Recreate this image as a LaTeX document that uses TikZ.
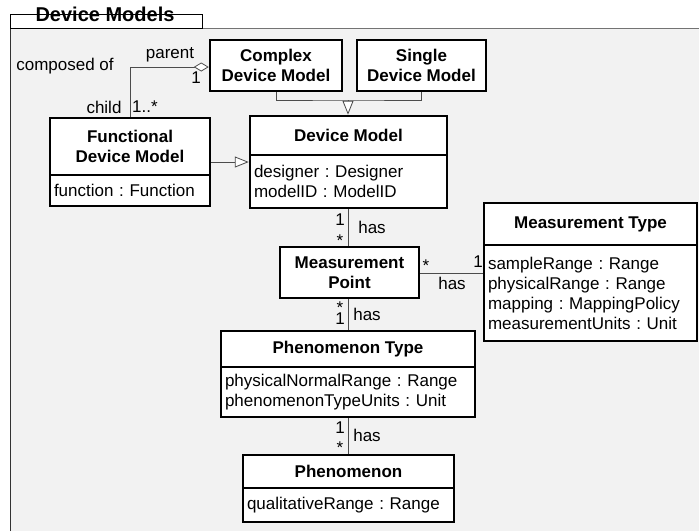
\documentclass[tikz,border=0pt]{standalone}
\usepackage{fontspec}
\setmainfont{Liberation Sans}
\usetikzlibrary{arrows.meta}
\frenchspacing
\begin{document}
\begin{tikzpicture}[x=1pt,y=-1pt,
 every node/.style={font=\fontsize{17}{20}\selectfont, inner sep=0pt},
 cls/.style={draw=black, line width=2.5pt, fill=white, align=center, font=\fontsize{17}{20}\selectfont\bfseries},
 attr/.style={draw=black, line width=2.5pt, fill=white, align=left, inner xsep=4pt, font=\frenchspacing\fontsize{17}{20}\selectfont},
 conn/.style={draw=black!70, line width=0.8pt},
 gen/.style={conn, -{Triangle[open, length=14pt, width=11pt, fill=white]}},
 agg/.style={conn, -{Diamond[open, length=15pt, width=9pt, fill=white]}},
 lbl/.style={font=\fontsize{17}{20}\selectfont, inner sep=0pt},
 star/.style={font=\fontsize{17}{20}\selectfont, inner sep=0pt, text height=5pt, text depth=0pt},
]
\useasboundingbox (0,0) rectangle (699,531);
% frame
\fill[gray!10] (10,28) rectangle (699,531);
\draw[black!80, line width=1pt] (10,531) -- (10,28);
\draw[black!55, line width=1pt] (202,28) -- (699,28);
\draw[black, line width=1pt, fill=white] (10,14) rectangle (202,28);
\node[font=\fontsize{20}{24}\selectfont\bfseries] (title) at (105,14) {Device Models};

% classes
\node[cls, minimum width=132pt, minimum height=51pt] (cdm) at (276,65.5) {Complex\\Device Model};
\node[cls, minimum width=129pt, minimum height=51pt] (sdm) at (421.5,65.5) {Single\\Device Model};

\node[cls, minimum width=197pt, minimum height=39pt] (dm) at (348.5,135.5) {Device Model};
\node[attr, text width=189pt, minimum height=53pt] (dma) at (348.5,181.5) {designer : Designer\\modelID : ModelID};

\node[cls, minimum width=160pt, minimum height=57pt] (fdm) at (130,146.5) {Functional\\Device Model};
\node[attr, text width=152pt, minimum height=31pt] (fdma) at (130,190.5) {function : Function};

\node[cls, minimum width=139pt, minimum height=51pt] (mp) at (349.5,272.5) {Measurement\\Point};

\node[cls, minimum width=213pt, minimum height=42pt] (mt) at (590.5,224) {Measurement Type};
\node[attr, text width=205pt, minimum height=96pt] (mta) at (590.5,293) {sampleRange : Range\\physicalRange : Range\\mapping : MappingPolicy\\measurementUnits : Unit};

\node[cls, minimum width=254pt, minimum height=36pt] (pt) at (348,349) {Phenomenon Type};
\node[attr, text width=246pt, minimum height=50pt] (pta) at (348,392) {physicalNormalRange : Range\\phenomenonTypeUnits : Unit};

\node[cls, minimum width=211pt, minimum height=33pt] (ph) at (348.5,471.5) {Phenomenon};
\node[attr, text width=203pt, minimum height=34pt] (pha) at (348.5,505) {qualitativeRange : Range};

% generalizations
\coordinate (gj) at (348,100);
\draw[conn] (cdm.south) |- (gj) -| (sdm.south);
\draw[gen] (gj) -- (gj |- dm.north);
\draw[gen] ([yshift=-15.5pt]fdm.east) -- ([yshift=-15.5pt]fdm.east -| dma.west);

% aggregation
\draw[agg] (fdm.north) |- ([yshift=-1.5pt]cdm.west);
\node[lbl] at (65,66) {composed of};
\node[lbl] at (170,55) {parent};
\node[lbl] at (196,78) {1};
\node[lbl] at (104,107) {child};
\node[lbl] at (145,107) {1..*};

% associations
\draw[conn] (dma.south -| gj) -- (mp.north -| gj);
\node[lbl] at (340,220) {1};
\node[star] at (340,237) {\raisebox{-7pt}{*}};
\node[lbl] at (372,227) {has};

\draw[conn] (mp.east |- 0,273) -- (mta.west |- 0,273);
\node[star] at (426,262) {\raisebox{-7pt}{*}};
\node[lbl] at (478,262) {1};
\node[lbl] at (452,283) {has};

\draw[conn] (mp.south -| gj) -- (pt.north -| gj);
\node[star] at (340,304) {\raisebox{-7pt}{*}};
\node[lbl] at (340,319) {1};
\node[lbl] at (367,314) {has};

\draw[conn] (pta.south -| gj) -- (ph.north -| gj);
\node[lbl] at (340,428) {1};
\node[star] at (340,444) {\raisebox{-7pt}{*}};
\node[lbl] at (367,435) {has};
\end{tikzpicture}
\end{document}
